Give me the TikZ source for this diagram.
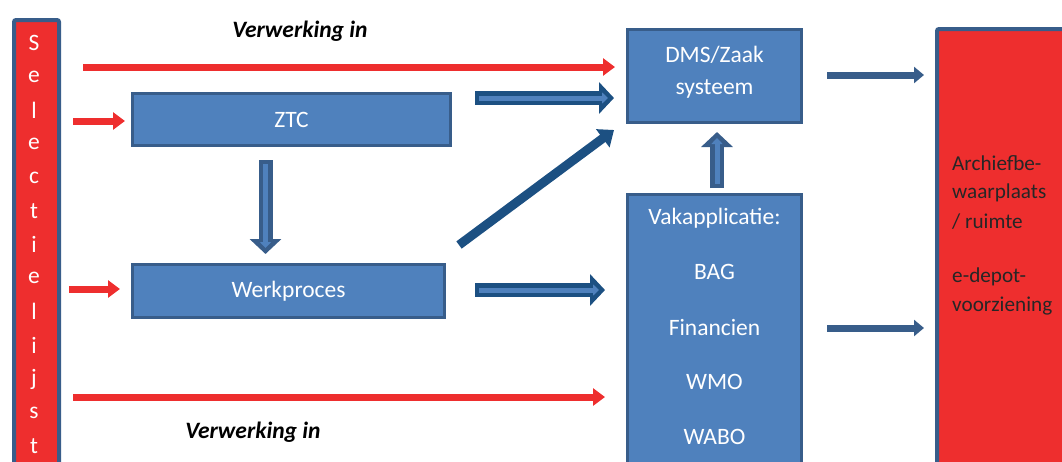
\documentclass[tikz,border=0pt]{standalone}
\usepackage{fontspec}
\setmainfont{Carlito}
\usetikzlibrary{arrows.meta}
\definecolor{bred}{RGB}{238,46,46}
\definecolor{bfill}{RGB}{79,129,189}
\definecolor{bline}{RGB}{56,93,138}
\definecolor{adark}{RGB}{28,80,130}
\tikzset{
  box/.style={draw=bline, line width=3.5pt, fill=bfill, text=white, inner sep=0pt},
  redbox/.style={draw=bline, line width=4pt, fill=bred, inner sep=0pt, rounded corners=2pt},
  lbl/.style={font=\fontsize{23.5}{28}\selectfont, inner sep=0pt},
  wlbl/.style={lbl, text=white},
  blbl/.style={font=\fontsize{21.2}{25}\selectfont, inner sep=0pt, text=black!85},
  verw/.style={font=\fontsize{23.5}{28}\selectfont\bfseries\itshape, inner sep=0pt},
  redarrow/.style={draw=bred, line width=7pt, -{Triangle[length=12pt,width=17pt]}},
  bluearrow/.style={draw=bline, line width=7pt, -{Triangle[length=10pt,width=16pt]}},
  diagarrow/.style={draw=adark, line width=9pt, -{Triangle[length=14pt,width=22pt]}},
  blockouter/.style={draw=#1, line width=14pt, -{Triangle[length=15pt,width=31pt]}},
  blockinner/.style={draw=bfill, line width=5pt, shorten >=6pt, shorten <=4pt, -{Triangle[length=6pt,width=11pt]}},
}
\begin{document}
\begin{tikzpicture}[x=1pt,y=-1pt]
\useasboundingbox (0,0) rectangle (1062,461);
\clip (0,0) rectangle (1062,461);
% boxes
\node[redbox, minimum width=45pt, minimum height=490pt, anchor=north west] (sel) at (12,18) {};
\foreach \ch [count=\i] in {S,e,l,e,c,t,i,e,l,i,j,s,t} {
  \node[wlbl] (sel\i) at (34,{43+(\i-1)*33.6}) {\ch};
}
\node[box, minimum width=318pt, minimum height=52pt] (ztc) at (291.5,119.5) {};
\node[wlbl] (ztct) at (ztc) {ZTC};
\node[box, minimum width=312pt, minimum height=53pt] (werk) at (288.5,291) {};
\node[wlbl] (werkt) at (werk) {Werkproces};
\node[box, minimum width=174pt, minimum height=93pt] (dms) at (714.5,76) {};
\node[wlbl] (dms1) at (714.5,55) {DMS/Zaak};
\node[wlbl] (dms2) at (714.5,89) {systeem};
\node[box, minimum width=174pt, minimum height=320pt, anchor=north] (vak) at (714.5,192.5) {};
\node[wlbl] (vak1) at (714.5,218) {Vakapplicatie:};
\node[wlbl] (vak2) at (714.5,272) {BAG};
\node[wlbl] (vak3) at (714.5,327) {Financien};
\node[wlbl] (vak4) at (714.5,382) {WMO};
\node[wlbl] (vak5) at (714.5,437) {WABO};
\node[redbox, minimum width=150pt, minimum height=480pt, anchor=north west] (arch) at (935,27) {};
\node[blbl, anchor=west] (a1) at (952,163) {Archiefbe-};
\node[blbl, anchor=west] (a2) at (952,193) {waarplaats};
\node[blbl, anchor=west] (a3) at (952,222) {/ ruimte};
\node[blbl, anchor=west] (a4) at (952,277) {e-depot-};
\node[blbl, anchor=west] (a5) at (952,306) {voorziening};
\node[verw] (v1) at (300,31) {Verwerking in};
\node[verw] (v2) at (253,432) {Verwerking in};
% arrow end points
\coordinate (r1s) at (83,67);   \coordinate (r1e) at (615,67);
\coordinate (r2s) at (73,121);  \coordinate (r2e) at (125,121);
\coordinate (r3s) at (69,289);  \coordinate (r3e) at (120,289);
\coordinate (r4s) at (73,397);  \coordinate (r4e) at (605,397);
\coordinate (b1s) at (475,98);  \coordinate (b1e) at (614,98);
\coordinate (b2s) at (265.5,160); \coordinate (b2e) at (265.5,254);
\coordinate (b3s) at (475,290); \coordinate (b3e) at (605,290);
\coordinate (b4s) at (717,188); \coordinate (b4e) at (717,132);
\coordinate (ds) at (459,245);  \coordinate (de) at (614,130);
\coordinate (g1s) at (827,75);  \coordinate (g1e) at (924,75);
\coordinate (g2s) at (827,328); \coordinate (g2e) at (924,328);
% arrows
\draw[redarrow] (r1s) -- (r1e);
\draw[redarrow] (r2s) -- (r2e);
\draw[redarrow] (r3s) -- (r3e);
\draw[redarrow] (r4s) -- (r4e);
\foreach \a/\c in {b1/adark,b2/bline,b3/adark,b4/bline} {
  \draw[blockouter=\c] (\a s) -- (\a e);
  \draw[blockinner] (\a s) -- (\a e);
}
\draw[diagarrow] (ds) -- (de);
\draw[bluearrow] (g1s) -- (g1e);
\draw[bluearrow] (g2s) -- (g2e);
\end{tikzpicture}
\end{document}
